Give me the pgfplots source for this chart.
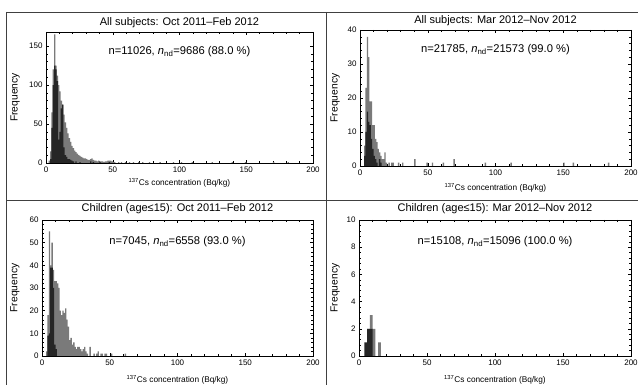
\documentclass[border=0pt]{standalone}
\usepackage{fontspec}
\setmainfont{Liberation Sans}
\usepackage{pgfplots}
\pgfplotsset{compat=1.18}
\pgfplotsset{
  panel/.style={
    scale only axis, anchor=south west, clip=false,
    xmin=0, xmax=200, ymin=0,
    xtick={0,50,100,150,200},
    minor x tick num=4, minor y tick num=4,
    tick align=inside,
    major tick length=3pt, minor tick length=1.6pt,
    tick style={black, line width=0.45pt},
    axis line style={line width=0.7pt},
    ticklabel style={font=\fontsize{8}{9}\selectfont},
    xlabel={\textsuperscript{137}Cs concentration (Bq/kg)},
    ylabel={Frequency},
    xlabel style={font=\fontsize{8.3}{10}\selectfont},
    ylabel style={font=\fontsize{10.3}{11}\selectfont},
    /pgf/number format/assume math mode=true,
  },
  lite/.style={ybar, bar width=1, bar shift=0pt, fill=black!52, draw=none},
  dark/.style={ybar, bar width=1, bar shift=0pt, fill=black!85, draw=none},
}
\tikzset{ann/.style={font=\fontsize{11.2}{13}\selectfont, anchor=center},
  ttl/.style={font=\fontsize{11}{13}\selectfont, anchor=center}}
\begin{document}
\begin{tikzpicture}
\useasboundingbox (0pt,0pt) rectangle (638pt,385pt);
% frame lines
\draw[black!75, line width=0.9pt] (6pt,373pt) -- (638pt,373pt);
\draw[black!75, line width=0.9pt] (6pt,185pt) -- (638pt,185pt);
\draw[black!75, line width=0.9pt] (6pt,373pt) -- (6pt,0pt);
\draw[black!75, line width=0.9pt] (326pt,373pt) -- (326pt,0pt);

% Panel 1
\begin{axis}[panel, at={(46pt,222pt)}, width=267pt, height=131pt,
  ymax=168, ytick={0,50,100,150},
  xlabel style={at={(axis description cs:0.5,-0.153)}, anchor=center},
  ylabel style={at={(axis description cs:-0.116,0.5)}, anchor=center}]
\addplot[lite] coordinates {
(2.5,3) (3.5,15) (4.5,65) (5.5,120) (6.5,165) (7.5,125) (8.5,112) (9.5,100)
(10.5,92) (11.5,80) (12.5,75) (13.5,62) (14.5,52) (15.5,45) (16.5,38) (17.5,32)
(18.5,27) (19.5,22) (20.5,19) (21.5,16) (22.5,14) (23.5,12) (24.5,10) (25.5,9)
(26.5,8) (27.5,7) (28.5,6) (29.5,6) (30.5,5) (31.5,4) (32.5,4) (33.5,5)
(34.5,6) (35.5,4) (36.5,3) (37.5,3) (38.5,2) (39.5,3) (40.5,2) (41.5,2)
(42.5,2) (43.5,1) (44.5,2) (45.5,2) (46.5,3) (47.5,3) (48.5,3) (49.5,2)
(50.5,1) (51.5,1) (54.5,1) (56.5,1) (59.5,1) (62.5,1) (65.5,1) (69.5,1)
(72.5,1) (77.5,1) (85.5,1) (95.5,1) (101.5,1) (109.5,1) (124.5,1) (139.5,1)
(149.5,1) (170.5,1) (181.5,1)};
\addplot[dark] coordinates {
(3.5,5) (4.5,45) (5.5,100) (6.5,125) (7.5,120) (8.5,105) (9.5,30) (10.5,40)
(11.5,70) (12.5,75) (13.5,20) (14.5,10) (15.5,8) (16.5,5) (17.5,5) (18.5,4)
(19.5,3) (20.5,2) (22.5,2) (25.5,1) (33.5,2) (35.5,1) (40.5,1) (47.5,1)};
\node[ttl] at (axis description cs:0.5,1.069) {All subjects: Oct 2011--Feb 2012};
\node[ann] at (axis description cs:0.5,0.847)
  {n=11026, \textit{n}\textsubscript{nd}=9686 (88.0 \%)};
\end{axis}

% Panel 2
\begin{axis}[panel, at={(360pt,219pt)}, width=271pt, height=136pt,
  ymax=40, ytick={0,10,20,30,40},
  xlabel style={at={(axis description cs:0.5,-0.162)}, anchor=center},
  ylabel style={at={(axis description cs:-0.092,0.5)}, anchor=center}]
\addplot[lite] coordinates {
(3.5,6) (4.5,23) (5.5,38) (6.5,32) (7.5,19) (8.5,19) (9.5,12) (10.5,12)
(11.5,8) (12.5,7) (13.5,5) (14.5,4) (15.5,3) (16.5,2) (17.5,2) (18.5,4)
(19.5,1) (21.5,1) (23.5,1) (24.5,1) (28.5,1) (31.5,1) (40.5,2) (49.5,1)
(53.5,1) (61.5,1) (69.5,2) (92.5,1) (111.5,1) (150.5,1) (157.5,1) (183.5,1)};
\addplot[dark] coordinates {
(3.5,3) (4.5,10) (5.5,16) (6.5,13) (7.5,12) (8.5,8) (9.5,5) (10.5,3)
(11.5,2) (12.5,1) (14.5,2) (15.5,1)};
\node[ttl] at (axis description cs:0.5,1.07) {All subjects: Mar 2012--Nov 2012};
\node[ann] at (axis description cs:0.5,0.853)
  {n=21785, \textit{n}\textsubscript{nd}=21573 (99.0 \%)};
\end{axis}

% Panel 3
\begin{axis}[panel, at={(42pt,29pt)}, width=271pt, height=136pt,
  ymax=60, ytick={0,10,20,30,40,50,60},
  xlabel style={at={(axis description cs:0.5,-0.176)}, anchor=center},
  ylabel style={at={(axis description cs:-0.0996,0.5)}, anchor=center}]
\addplot[lite] coordinates {
(3.5,2) (4.5,18) (5.5,55) (6.5,40) (7.5,50) (8.5,38) (9.5,33) (10.5,33)
(11.5,32) (12.5,30) (13.5,20) (14.5,18) (15.5,20) (16.5,19) (17.5,21) (18.5,16)
(19.5,13) (20.5,7) (21.5,8) (22.5,5) (23.5,6) (24.5,4) (25.5,3) (26.5,4)
(27.5,4) (28.5,3) (29.5,2) (30.5,3) (31.5,4) (32.5,2) (33.5,1) (35.5,4)
(38.5,1) (40.5,1) (41.5,2) (43.5,1) (44.5,1) (46.5,1) (47.5,1) (51.5,1)
(61.5,1)};
\addplot[dark] coordinates {
(4.5,9) (5.5,10) (6.5,39) (7.5,39) (8.5,30) (9.5,5) (10.5,3)};
\node[ttl] at (axis description cs:0.5,1.081) {Children (age≤15): Oct 2011--Feb 2012};
\node[ann] at (axis description cs:0.5,0.838)
  {n=7045, \textit{n}\textsubscript{nd}=6558 (93.0 \%)};
\end{axis}

% Panel 4
\begin{axis}[panel, at={(359pt,29pt)}, width=272pt, height=136pt,
  ymax=10, ytick={0,2,4,6,8,10},
  xlabel style={at={(axis description cs:0.5,-0.176)}, anchor=center},
  ylabel style={at={(axis description cs:-0.088,0.5)}, anchor=center}]
\addplot[lite, bar width=2] coordinates {
(7,2) (9,3) (11,2) (15,1)};
\addplot[dark, bar width=2] coordinates {
(5,1) (7,2) (9,2)};
\node[ttl] at (axis description cs:0.5,1.081) {Children (age≤15): Mar 2012--Nov 2012};
\node[ann] at (axis description cs:0.5,0.838)
  {n=15108, \textit{n}\textsubscript{nd}=15096 (100.0 \%)};
\end{axis}
\end{tikzpicture}
\end{document}
